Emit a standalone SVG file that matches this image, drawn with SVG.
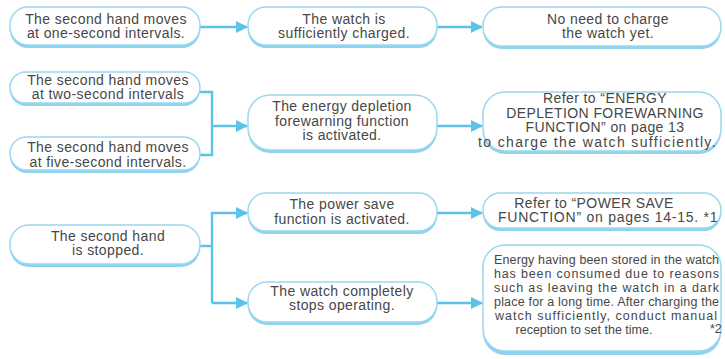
<svg xmlns="http://www.w3.org/2000/svg" width="725" height="359" viewBox="0 0 725 359">
<defs>
<style>
.sh{fill:#8fd2ee;}
.bx{fill:#ffffff;stroke:#9ad7f0;stroke-width:1.5;}
.t{font-family:"Liberation Sans",Arial,Helvetica,sans-serif;font-size:14px;letter-spacing:0.4px;fill:#474747;text-anchor:middle;}
.s{font-family:"Liberation Sans",Arial,Helvetica,sans-serif;font-size:12.5px;fill:#474747;}
.c{fill:none;stroke:#5cc2ea;stroke-width:2.4;}
.ah{fill:#5cc2ea;}
</style>
<marker id="arr" viewBox="0 0 12 12" refX="11" refY="6" markerWidth="12" markerHeight="12" markerUnits="userSpaceOnUse" orient="auto">
<path d="M0,0 L12,6 L0,12 Z" class="ah"/>
</marker>
</defs>
<rect width="725" height="359" fill="#ffffff"/>

<g id="connectors">
<path class="c" d="M200,27 H247" marker-end="url(#arr)"/>
<path class="c" d="M437,27 H482" marker-end="url(#arr)"/>
<path class="c" d="M200,92 H212 V155 H200"/>
<path class="c" d="M212,126 H247" marker-end="url(#arr)"/>
<path class="c" d="M437,126 H482" marker-end="url(#arr)"/>
<path class="c" d="M200,246 H212"/>
<path class="c" d="M212,303 V213 H247" marker-end="url(#arr)"/>
<path class="c" d="M212,303 H247" marker-end="url(#arr)"/>
<path class="c" d="M437,213 H482" marker-end="url(#arr)"/>
<path class="c" d="M437,303 H482" marker-end="url(#arr)"/>
</g>

<g id="n1">
<rect class="sh" x="10" y="9" width="190" height="39" rx="18"/>
<rect class="bx" x="10" y="7" width="190" height="38" rx="18"/>
<text class="t" x="106" y="23.5">The second hand moves</text>
<text class="t" x="106" y="38">at one-second intervals.</text>
</g>

<g id="n2">
<rect class="sh" x="248" y="9" width="189" height="39" rx="18"/>
<rect class="bx" x="248" y="7" width="189" height="38" rx="18"/>
<text class="t" x="344" y="23.5">The watch is</text>
<text class="t" x="344" y="38">sufficiently charged.</text>
</g>

<g id="n3">
<rect class="sh" x="483" y="9" width="238" height="40" rx="19"/>
<rect class="bx" x="483" y="7" width="238" height="39" rx="19"/>
<text class="t" x="608" y="23.5">No need to charge</text>
<text class="t" x="608" y="38">the watch yet.</text>
</g>

<g id="n4">
<rect class="sh" x="10" y="74" width="190" height="32" rx="16"/>
<rect class="bx" x="10" y="72" width="190" height="31" rx="15.5"/>
<text class="t" x="108" y="84.5">The second hand moves</text>
<text class="t" x="108" y="99">at two-second intervals</text>
</g>

<g id="n5">
<rect class="sh" x="10" y="139" width="190" height="34" rx="17"/>
<rect class="bx" x="10" y="137" width="190" height="33" rx="16.5"/>
<text class="t" x="108" y="152">The second hand moves</text>
<text class="t" x="108" y="166.5">at five-second intervals.</text>
</g>

<g id="n6">
<rect class="sh" x="248" y="97" width="189" height="56" rx="22"/>
<rect class="bx" x="248" y="95" width="189" height="55" rx="22"/>
<text class="t" x="342" y="111">The energy depletion</text>
<text class="t" x="342" y="125.5">forewarning function</text>
<text class="t" x="342" y="140">is activated.</text>
</g>

<g id="n7">
<rect class="sh" x="483" y="94" width="238" height="60" rx="22"/>
<rect class="bx" x="483" y="92" width="238" height="59" rx="22"/>
<text class="t" x="605" y="103">Refer to “ENERGY</text>
<text class="t" x="605" y="117.5">DEPLETION FOREWARNING</text>
<text class="t" x="605" y="132">FUNCTION” on page 13</text>
<text class="t" x="597" y="146.5" textLength="238">to charge the watch sufficiently.</text>
</g>

<g id="n8">
<rect class="sh" x="10" y="227" width="190" height="40" rx="19"/>
<rect class="bx" x="10" y="225" width="190" height="39" rx="19"/>
<text class="t" x="108" y="240.5">The second hand</text>
<text class="t" x="108" y="255">is stopped.</text>
</g>

<g id="n9">
<rect class="sh" x="248" y="195" width="189" height="39" rx="18"/>
<rect class="bx" x="248" y="193" width="189" height="38" rx="18"/>
<text class="t" x="342" y="209">The power save</text>
<text class="t" x="342" y="223.5">function is activated.</text>
</g>

<g id="n10">
<rect class="sh" x="483" y="195" width="238" height="36" rx="17"/>
<rect class="bx" x="483" y="193" width="238" height="35" rx="17"/>
<text class="t" x="594" y="207.5">Refer to  “POWER SAVE</text>
<text class="t" x="608" y="222" textLength="220">FUNCTION”  on pages 14-15.  *1</text>
</g>

<g id="n11">
<rect class="sh" x="248" y="284" width="189" height="41" rx="19"/>
<rect class="bx" x="248" y="282" width="189" height="40" rx="19"/>
<text class="t" x="342" y="295.5">The watch completely</text>
<text class="t" x="342" y="310">stops operating.</text>
</g>

<g id="n12">
<rect class="sh" x="483" y="247" width="238" height="108" rx="22"/>
<rect class="bx" x="483" y="245" width="238" height="106" rx="22"/>
<text class="s" x="494" y="264" textLength="225">Energy having been stored in the watch</text>
<text class="s" x="494" y="278" textLength="225">has been consumed due to reasons</text>
<text class="s" x="494" y="292" textLength="225">such as leaving the watch in a dark</text>
<text class="s" x="494" y="306" textLength="225">place for a long time. After charging the</text>
<text class="s" x="495" y="320" textLength="222">watch sufficiently, conduct manual</text>
<text class="s" x="584" y="334" text-anchor="middle" font-size="12">reception to set the time.</text>
<text class="s" x="710" y="333" font-size="11">*2</text>
</g>
</svg>
